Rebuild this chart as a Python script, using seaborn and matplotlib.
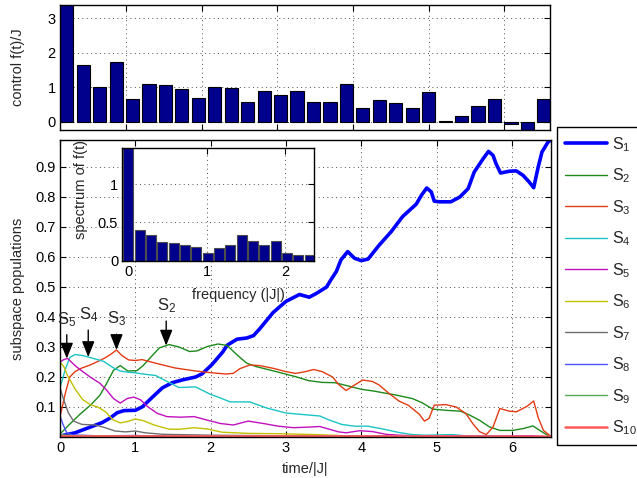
import numpy as np
import matplotlib
matplotlib.use("Agg")
import matplotlib.pyplot as plt
import seaborn as sns

# ---------------- data ----------------
# piecewise-constant control amplitude f(t)/J, 30 time slots over T = 6.52/|J|
T_total = 6.52
control_f = [3.6, 1.64, 1.0, 1.74, 0.66, 1.09, 1.06, 0.94, 0.68, 1.0,
             0.97, 0.58, 0.9, 0.77, 0.9, 0.58, 0.58, 1.09, 0.39, 0.63,
             0.55, 0.39, 0.87, 0.01, 0.17, 0.46, 0.66, -0.07, -0.3, 0.66]
slot = T_total / len(control_f)
control_t = slot * np.arange(1, len(control_f) + 1)

# spectrum of the control
freq = 0.1446 * np.arange(17)
spectrum = [1.6, 0.40, 0.33, 0.24, 0.23, 0.20, 0.18, 0.10, 0.17, 0.21,
            0.33, 0.26, 0.21, 0.26, 0.10, 0.08, 0.07]

# subspace populations
S1_t = [0, 0.2, 0.38, 0.56, 0.67, 0.76, 0.85, 1.0, 1.09, 1.22, 1.36, 1.49, 1.62, 1.8,
        1.89, 2.02, 2.16, 2.22, 2.35, 2.48, 2.57, 2.65, 2.83, 3.0, 3.18, 3.31, 3.4,
        3.54, 3.6, 3.67, 3.73, 3.82, 3.91, 4.0, 4.09, 4.24, 4.4, 4.55, 4.73, 4.8,
        4.87, 4.93, 4.97, 5.04, 5.19, 5.31, 5.42, 5.5, 5.62, 5.69, 5.75, 5.79, 5.85,
        5.97, 6.06, 6.15, 6.23, 6.29, 6.35, 6.4, 6.48, 6.52]
S1_v = [0.003, 0.014, 0.031, 0.048, 0.064, 0.081, 0.088, 0.089, 0.1, 0.131, 0.164,
        0.181, 0.19, 0.2, 0.211, 0.242, 0.283, 0.306, 0.326, 0.33, 0.338, 0.36, 0.415,
        0.452, 0.475, 0.466, 0.478, 0.5, 0.525, 0.552, 0.59, 0.618, 0.596, 0.588,
        0.593, 0.64, 0.685, 0.735, 0.776, 0.806, 0.83, 0.817, 0.786, 0.784, 0.784,
        0.8, 0.828, 0.883, 0.928, 0.952, 0.939, 0.911, 0.88, 0.886, 0.887, 0.872,
        0.85, 0.831, 0.9, 0.95, 0.983, 0.99]

S2_t = [0, 0.04, 0.13, 0.27, 0.4, 0.53, 0.62, 0.71, 0.8, 0.9, 1.02, 1.1, 1.22, 1.32,
        1.45, 1.58, 1.72, 1.82, 1.96, 2.1, 2.22, 2.35, 2.48, 2.6, 2.87, 3.13, 3.3,
        3.48, 3.65, 3.83, 4.0, 4.17, 4.3, 4.46, 4.68, 4.81, 4.95, 5.12, 5.32, 5.44,
        5.57, 5.7, 5.84, 6.01, 6.15, 6.28, 6.37, 6.46, 6.52]
S2_v = [0.01, 0.02, 0.043, 0.077, 0.105, 0.139, 0.179, 0.222, 0.238, 0.22, 0.221,
        0.237, 0.27, 0.297, 0.308, 0.3, 0.285, 0.287, 0.302, 0.31, 0.305, 0.274,
        0.246, 0.235, 0.218, 0.201, 0.188, 0.182, 0.181, 0.17, 0.159, 0.153, 0.147,
        0.14, 0.128, 0.114, 0.093, 0.089, 0.086, 0.073, 0.056, 0.034, 0.022, 0.022,
        0.028, 0.037, 0.022, 0.008, 0.0]

S3_t = [0, 0.03, 0.07, 0.13, 0.2, 0.29, 0.4, 0.47, 0.6, 0.67, 0.75, 0.82, 0.91, 1.0,
        1.09, 1.27, 1.53, 1.8, 2.02, 2.2, 2.3, 2.39, 2.52, 2.65, 2.83, 3.0, 3.13, 3.26,
        3.37, 3.48, 3.62, 3.7, 3.8, 3.89, 4.02, 4.15, 4.24, 4.37, 4.5, 4.63, 4.77,
        4.84, 4.9, 4.97, 5.12, 5.26, 5.39, 5.48, 5.57, 5.66, 5.75, 5.84, 5.97, 6.06,
        6.2, 6.29, 6.35, 6.42, 6.52]
S3_v = [0.07, 0.1, 0.145, 0.2, 0.218, 0.23, 0.24, 0.248, 0.264, 0.275, 0.29, 0.272,
        0.257, 0.255, 0.258, 0.246, 0.23, 0.22, 0.214, 0.21, 0.212, 0.228, 0.24,
        0.238, 0.229, 0.218, 0.212, 0.218, 0.225, 0.218, 0.2, 0.175, 0.155, 0.17,
        0.19, 0.185, 0.173, 0.145, 0.12, 0.105, 0.076, 0.053, 0.062, 0.106, 0.108,
        0.1, 0.078, 0.045, 0.018, 0.008, 0.033, 0.095, 0.086, 0.084, 0.102, 0.12,
        0.065, 0.022, 0.002]

S4_t = [0, 0.03, 0.07, 0.13, 0.2, 0.31, 0.44, 0.58, 0.7, 0.8, 0.9, 1.0, 1.1, 1.27,
        1.4, 1.58, 1.8, 2.0, 2.1, 2.26, 2.52, 2.74, 3.0, 3.22, 3.45, 3.56, 3.74, 3.91,
        4.09, 4.3, 4.5, 4.68, 4.86, 5.21, 5.43, 5.7, 6.52]
S4_v = [0.165, 0.19, 0.225, 0.265, 0.275, 0.271, 0.262, 0.252, 0.232, 0.22, 0.216,
        0.214, 0.21, 0.205, 0.188, 0.165, 0.167, 0.142, 0.133, 0.117, 0.117, 0.097,
        0.08, 0.075, 0.07, 0.058, 0.042, 0.036, 0.036, 0.026, 0.015, 0.008, 0.006,
        0.008, 0.003, 0.001, 0.0]

S5_t = [0, 0.05, 0.1, 0.2, 0.27, 0.4, 0.53, 0.62, 0.71, 0.8, 0.89, 0.98, 1.07, 1.16,
        1.29, 1.42, 1.6, 1.78, 1.96, 2.13, 2.3, 2.5, 2.7, 2.9, 3.1, 3.3, 3.45, 3.7,
        3.8, 3.98, 4.15, 4.33, 4.5, 4.8, 5.5, 6.27, 6.52]
S5_v = [0.25, 0.258, 0.262, 0.238, 0.224, 0.2, 0.179, 0.156, 0.128, 0.113, 0.128,
        0.133, 0.124, 0.102, 0.079, 0.068, 0.066, 0.068, 0.056, 0.045, 0.04, 0.053,
        0.045, 0.036, 0.031, 0.033, 0.035, 0.017, 0.014, 0.021, 0.018, 0.009, 0.006,
        0.003, 0.002, 0.004, 0.0]

S6_t = [0, 0.05, 0.1, 0.2, 0.3, 0.4, 0.5, 0.6, 0.7, 0.8, 0.9, 1.0, 1.1, 1.25, 1.45,
        1.6, 1.78, 1.95, 2.15, 2.5, 2.9, 3.4, 3.8, 4.2, 6.52]
S6_v = [0.25, 0.235, 0.205, 0.16, 0.125, 0.108, 0.1, 0.085, 0.058, 0.047, 0.052,
        0.06, 0.055, 0.04, 0.026, 0.026, 0.031, 0.027, 0.016, 0.012, 0.011, 0.008,
        0.004, 0.001, 0.0]

S7_t = [0, 0.04, 0.11, 0.18, 0.29, 0.47, 0.6, 0.73, 0.87, 1.0, 1.13, 1.36, 2.0, 3.0,
        4.0, 6.52]
S7_v = [0.164, 0.131, 0.081, 0.053, 0.042, 0.04, 0.031, 0.02, 0.017, 0.02, 0.014,
        0.009, 0.006, 0.004, 0.002, 0.0]

S8_t = [0, 0.04, 0.09, 0.16, 0.5, 1.0, 1.5, 3.0, 5.2, 6.52]
S8_v = [0.07, 0.042, 0.014, 0.007, 0.004, 0.005, 0.003, 0.002, 0.004, 0.0]

S9_t = [0, 0.2, 1.0, 3.0, 6.52]
S9_v = [0.008, 0.004, 0.003, 0.002, 0.0]

S10_t = [0, 1.0, 3.0, 5.0, 6.52]
S10_v = [0.002, 0.002, 0.002, 0.002, 0.001]

series = [
    ("S$_{1}$", S1_t, S1_v, "#0000ff", 2.6),
    ("S$_{2}$", S2_t, S2_v, "#1b8a1b", 1.0),
    ("S$_{3}$", S3_t, S3_v, "#e23b14", 1.0),
    ("S$_{4}$", S4_t, S4_v, "#1cc4c4", 1.0),
    ("S$_{5}$", S5_t, S5_v, "#c010c0", 1.0),
    ("S$_{6}$", S6_t, S6_v, "#c2c000", 1.0),
    ("S$_{7}$", S7_t, S7_v, "#6e6e6e", 1.0),
    ("S$_{8}$", S8_t, S8_v, "#5050ff", 1.0),
    ("S$_{9}$", S9_t, S9_v, "#55aa55", 1.0),
    ("S$_{10}$", S10_t, S10_v, "#ff5a5a", 1.8),
]

# arrows pointing at the population maxima: (label, times, values, t, arrow length)
markers = [("S$_{5}$", S5_t, S5_v, 0.09, 0.10),
           ("S$_{4}$", S4_t, S4_v, 0.375, 0.11),
           ("S$_{3}$", S3_t, S3_v, 0.75, 0.073),
           ("S$_{2}$", S2_t, S2_v, 1.41, 0.102)]

# ---------------- style ----------------
sns.set_theme(style="white")
plt.rcParams['font.family'] = ['Liberation Sans', 'DejaVu Sans']
plt.rcParams['mathtext.default'] = 'regular'
plt.rcParams['axes.edgecolor'] = 'black'
plt.rcParams['axes.linewidth'] = 1.0

navy = "#00008c"
grid_kw = dict(color='0.3', linestyle=(0, (1, 3.5)), linewidth=0.7)
tick_fs = 10.5

fig = plt.figure(figsize=(6.37, 4.78), dpi=100)
W, H = 637.0, 478.0


def box(l, t, r, b):
    return [l / W, 1 - b / H, (r - l) / W, (b - t) / H]


ax_top = fig.add_axes(box(60, 5, 549.5, 130))
ax = fig.add_axes(box(60, 140, 551, 437))
ax_in = fig.add_axes(box(122.3, 148.3, 314, 260.7))


def frame(a):
    a.tick_params(direction='in', length=4, width=0.8, top=True, right=True,
                  bottom=True, left=True, colors='black', labelsize=tick_fs, pad=3)
    for s in a.spines.values():
        s.set_color('black')
        s.set_linewidth(1.0)
    a.grid(True, **grid_kw)
    a.set_axisbelow(True)


# ---------------- control panel ----------------
sns.barplot(x=control_t, y=control_f, native_scale=True, width=0.8, color=navy,
            saturation=1, edgecolor='black', linewidth=0.8, ax=ax_top)
frame(ax_top)
ax_top.set_xlim(0.128, 6.595)
ax_top.set_ylim(-0.24, 3.38)
ax_top.set_xticks([1, 2, 3, 4, 5, 6])
ax_top.set_xticklabels([])
ax_top.set_yticks([0, 1, 2, 3])
ax_top.set_yticklabels(['0', '1', '2', '3'])
ax_top.set_xlabel('')
ax_top.set_ylabel('control f(t)/J', fontsize=10.5)
ax_top.yaxis.set_label_coords(-0.071, 0.5)

# ---------------- populations ----------------
for name, tt, vv, col, lw in series:
    sns.lineplot(x=tt, y=vv, color=col, linewidth=lw, sort=False, estimator=None,
                 label=name, ax=ax)
handles, labels = ax.get_legend_handles_labels()
ax.get_legend().remove()
frame(ax)
ax.set_xlim(0, T_total)
ax.set_ylim(0, 0.99)
ax.set_xticks([0, 1, 2, 3, 4, 5, 6])
ax.set_xticklabels(['0', '1', '2', '3', '4', '5', '6'])
yt = [0.1, 0.2, 0.3, 0.4, 0.5, 0.6, 0.7, 0.8, 0.9]
ax.set_yticks(yt)
ax.set_yticklabels([f"{v:.1f}" for v in yt])
ax.set_xlabel('time/|J|', fontsize=10.5)
ax.set_ylabel('subspace populations', fontsize=10.5)
ax.xaxis.set_label_coords(0.5, -0.085)
ax.yaxis.set_label_coords(-0.072, 0.5)

for lab, tt, vv, t0, dv in markers:
    v0 = np.interp(t0, tt, vv)
    ax.annotate(lab, xy=(t0, v0), xytext=(t0, v0 + dv), ha='center', va='bottom',
                fontsize=12,
                arrowprops=dict(arrowstyle='-|>,head_length=0.8,head_width=0.32',
                                color='black', lw=1.0, shrinkA=2, shrinkB=0,
                                mutation_scale=12))

fig.legend(handles, labels, loc='upper left', bbox_to_anchor=(557 / W, 1 - 127 / H),
           frameon=True, fancybox=False, edgecolor='black', framealpha=1,
           fontsize=11.5, handlelength=2.6, handletextpad=0.35, labelspacing=0.8,
           borderpad=0.5, borderaxespad=0)

# ---------------- spectrum inset ----------------
sns.barplot(x=freq, y=spectrum, native_scale=True, width=0.88, color=navy,
            saturation=1, edgecolor='0.3', linewidth=0.8, ax=ax_in)
frame(ax_in)
ax_in.set_facecolor('white')
ax_in.set_xlim(-0.078, 2.37)
ax_in.set_ylim(0, 1.466)
ax_in.set_xticks([0, 1, 2])
ax_in.set_xticklabels(['0', '1', '2'])
ax_in.set_yticks([0, 0.5, 1])
ax_in.set_yticklabels(['0', '0.5', '1'])
ax_in.set_xlabel('frequency (|J|)', fontsize=10.5)
ax_in.set_ylabel('spectrum of f(t)', fontsize=10.5)
ax_in.xaxis.set_label_coords(0.604, -0.243)
ax_in.yaxis.set_label_coords(-0.179, 0.633)

fig.savefig('out.png', dpi=100)
